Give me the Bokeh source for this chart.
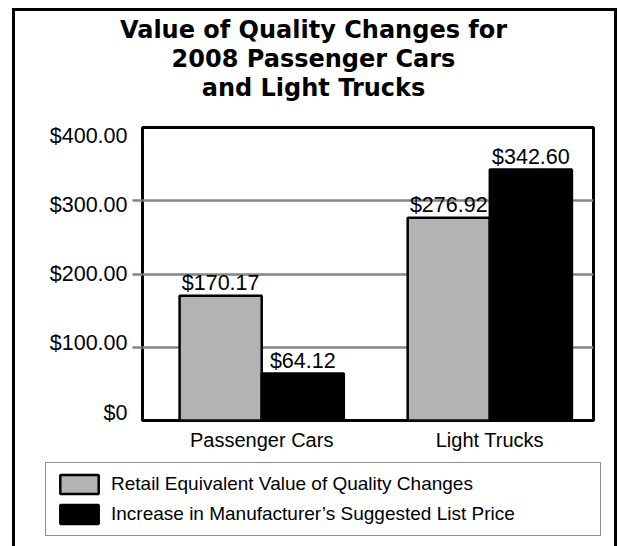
from bokeh.plotting import figure
from bokeh.layouts import column
from bokeh.models import (Range1d, LinearAxis, FixedTicker, Grid, Label, Legend,
                          LegendItem, ColumnDataSource)
from bokeh.core.properties import value
from bokeh.embed import file_html
from bokeh.resources import INLINE

# ---- data ----
categories = ["Passenger Cars", "Light Trucks"]
retail_equivalent = [170.17, 276.92]
msrp_increase = [64.12, 342.60]
series_names = ["Retail Equivalent Value of Quality Changes",
                "Increase in Manufacturer\u2019s Suggested List Price"]
y_ticks = [0, 100, 200, 300, 400]
y_tick_labels = ["$0", "$100.00", "$200.00", "$300.00", "$400.00"]
grid_values = [100, 200, 300]
title_lines = ["Value of Quality Changes for", "2008 Passenger Cars", "and Light Trucks"]

# ---- layout (pixels) ----
W = 599
TITLE_H, MAIN_H, LEG_H = 112, 333, 90
FL, FR, FT, FB = 127, 578, 4, 297          # plot frame inside the main figure
GRAY = "#b3b3b3"
GRID = "#858585"
FONT = "Liberation Sans"

idx = list(range(len(categories)))
bw = 0.36
off = 0.18


def blank(height):
    f = figure(width=W, height=height, output_backend="svg", toolbar_location=None,
               x_range=Range1d(0, 1), y_range=Range1d(0, 1), frame_align=False,
               x_axis_location=None, y_axis_location=None, min_border=0,
               background_fill_color="white", border_fill_color="white")
    f.outline_line_color = None
    for g in f.xgrid + f.ygrid:
        g.grid_line_color = None
        g.visible = False
    return f


# ---- title block ----
tf = blank(TITLE_H)
for line, yc in zip(title_lines, (94, 65, 36)):
    tf.add_layout(Label(x=298, y=yc, x_units="screen", y_units="screen",
                        text=line, text_align="center", text_baseline="alphabetic",
                        text_font="DejaVu Sans", text_font_style="bold",
                        text_font_size="24px", text_color="black"))

# ---- main chart ----
p = figure(width=W, height=MAIN_H, output_backend="svg", toolbar_location=None,
           x_range=Range1d(-0.5226, 1.4546), y_range=Range1d(0, 400),
           y_axis_location=None, min_border_left=FL, min_border_right=W - FR,
           min_border_top=FT, min_border_bottom=MAIN_H - FB, frame_align=False,
           background_fill_color="white", border_fill_color="white")
p.extra_y_ranges = {"labels": Range1d(-11.55, 411.55)}
p.outline_line_color = "black"
p.outline_line_width = 3
for g in p.xgrid + p.ygrid:
    g.grid_line_color = None

p.add_layout(Grid(dimension=1, ticker=FixedTicker(ticks=grid_values),
                  grid_line_color=GRID, grid_line_width=2.5))

tick_axis = LinearAxis(ticker=FixedTicker(ticks=grid_values),
                       major_label_overrides={v: "" for v in grid_values},
                       major_label_standoff=0, major_tick_out=10, major_tick_in=0,
                       major_tick_line_color=GRID, major_tick_line_width=2.5,
                       minor_tick_line_color=None, axis_line_color=None)
p.add_layout(tick_axis, "left")

label_axis = LinearAxis(y_range_name="labels", ticker=FixedTicker(ticks=y_ticks),
                        major_label_overrides={t: l for t, l in zip(y_ticks, y_tick_labels)},
                        major_label_standoff=5, major_tick_out=0, major_tick_in=0,
                        major_tick_line_color=None, minor_tick_line_color=None,
                        axis_line_color=None,
                        major_label_text_font=FONT, major_label_text_font_size="21.5px",
                        major_label_text_color="black")
p.add_layout(label_axis, "left")

xa = p.xaxis[0]
xa.ticker = FixedTicker(ticks=idx)
xa.major_label_overrides = {i: c for i, c in zip(idx, categories)}
xa.axis_line_color = None
xa.major_tick_line_color = None
xa.major_tick_out = 0
xa.major_tick_in = 0
xa.minor_tick_line_color = None
xa.minor_tick_out = 0
xa.major_label_standoff = 8
xa.major_label_text_font = FONT
xa.major_label_text_font_size = "20px"
xa.major_label_text_color = "black"

src = ColumnDataSource(dict(
    x_retail=[i - off for i in idx], x_msrp=[i + off for i in idx],
    retail=retail_equivalent, msrp=msrp_increase,
    retail_lbl=[f"${v:.2f}" for v in retail_equivalent],
    msrp_lbl=[f"${v:.2f}" for v in msrp_increase],
))

bar_styles = [dict(fill_color=GRAY, line_color="black", line_width=2.5),
              dict(fill_color="black", line_color="black", line_width=2.5)]
series_cols = [("x_retail", "retail", "retail_lbl"), ("x_msrp", "msrp", "msrp_lbl")]

for (xcol, ycol, tcol), st in zip(series_cols, bar_styles):
    p.vbar(x=xcol, top=ycol, bottom=0, width=bw, source=src, **st)
    p.text(x=xcol, y=ycol, text=tcol, source=src, text_align="center",
           text_baseline="alphabetic", y_offset=-13, text_color="black",
           text_font=value(FONT), text_font_size=value("21.5px"))

# ---- legend block (hidden renderers supply the swatch styles) ----
lf = blank(LEG_H)
items = []
for name, (xcol, ycol, _), st in zip(series_names, series_cols, bar_styles):
    r = lf.vbar(x=xcol, top=ycol, bottom=0, width=bw, source=src, visible=False, **st)
    items.append(LegendItem(label=name, renderers=[r]))
lg = Legend(items=items, location=(30, 10), padding=9, margin=0, spacing=6,
            glyph_width=48, glyph_height=24, label_height=24, label_width=480,
            label_standoff=8, label_text_font=FONT, label_text_font_size="19px",
            label_text_color="black", border_line_color="#222222",
            border_line_width=1.3, background_fill_color="white",
            inactive_fill_alpha=0, click_policy="none")
lf.add_layout(lg)

layout = column(tf, p, lf, spacing=0,
                styles={"box-sizing": "content-box",
                        "border-left": "3px solid black",
                        "border-right": "3px solid black",
                        "border-top": "3px solid black",
                        "margin-left": "12px", "margin-top": "8px"})

open("out.html", "w").write(file_html(layout, INLINE))
